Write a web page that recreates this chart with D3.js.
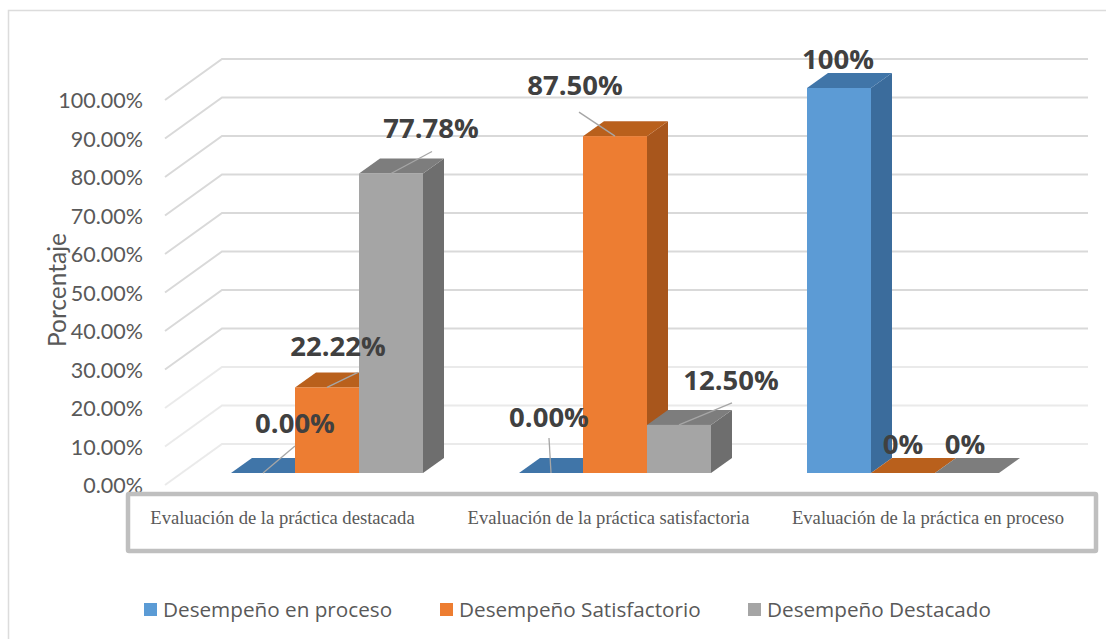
<!DOCTYPE html>
<html>
<head>
<meta charset="utf-8">
<script src="https://cdn.jsdelivr.net/npm/d3@7"></script>
<style>
html,body{margin:0;padding:0;background:#fff;overflow:hidden}
svg{display:block}
</style>
</head>
<body>
<div id="chart"></div>
<script>
const categories = ["Evaluación de la práctica destacada","Evaluación de la práctica satisfactoria","Evaluación de la práctica en proceso"];
const seriesNames = ["Desempeño en proceso","Desempeño Satisfactorio","Desempeño Destacado"];
const enProceso = [0, 0, 1];
const satisfactorio = [0.2222, 0.875, 0];
const destacado = [0.7778, 0.125, 0];
const valueLabels = [["0.00%","0.00%","100%"],["22.22%","87.50%","0%"],["77.78%","12.50%","0%"]];
const tickValues = [0,0.1,0.2,0.3,0.4,0.5,0.6,0.7,0.8,0.9,1];

const seriesValues = [enProceso, satisfactorio, destacado];
const W = 1106, H = 639;
const faces = [
  {front:"#5b9bd5", top:"#3f74a8", side:"#3a6c9c"},
  {front:"#ed7d31", top:"#b9601f", side:"#a8561c"},
  {front:"#a5a5a5", top:"#7d7d7d", side:"#6e6e6e"}
];
const depth = {dx:21, dy:-15};
const wall = {frontX:165, backX:222, rightX:1088, frontDy:12, backDy:-29};

// label centre and optional leader end, relative to the bar's top-front centre
// indexed [series][category]
const labelPlace = [
  [{lx:32,ly:-50,ex:32,ey:-27},{lx:-2,ly:-56,ex:-2,ey:-35},{lx:-1,ly:-29}],
  [{lx:11,ly:-41,ex:31,ey:-15},{lx:-40,ly:-51,ex:-36,ey:-24},{lx:0,ly:-29}],
  [{lx:40,ly:-45,ex:41,ey:-22},{lx:52,ly:-45,ex:53,ey:-22},{lx:-2,ly:-29}]
];

const svg = d3.select("#chart").append("svg").attr("width",W).attr("height",H);
svg.append("rect").attr("width",W).attr("height",H).attr("fill","#fff");
const defs = svg.append("defs");
defs.append("filter").attr("id","soft").append("feGaussianBlur").attr("stdDeviation",0.6);

// outer frame
svg.append("path").attr("d",`M${W},10.5H8.5V${H}`).attr("fill","none").attr("stroke","#dcdcdc").attr("stroke-width",1.5);

const x = d3.scaleBand().domain(categories).range([183,1047]).paddingInner(1/3).paddingOuter(1/6);
const xs = d3.scaleBand().domain(seriesNames).range([0,x.bandwidth()]);
const y = d3.scaleLinear().domain([0,1]).range([473,88]);

// gridlines and side wall
const grid = svg.append("g").attr("fill","none").attr("stroke","#d9d9d9").attr("stroke-width",2).attr("filter","url(#soft)");
grid.selectAll("path").data(tickValues).join("path")
  .attr("stroke-opacity",(d,i)=>i<3?0.55:1)
  .attr("d",d=>`M${wall.frontX},${y(d)+wall.frontDy}L${wall.backX},${y(d)+wall.backDy}H${wall.rightX}`);

// y axis
const axis = svg.append("g").attr("transform",`translate(143,${wall.frontDy+1})`)
  .call(d3.axisLeft(y).tickValues(tickValues).tickSize(0).tickPadding(0).tickFormat(d3.format(".2%")));
axis.select(".domain").remove();
axis.selectAll("text").attr("font-family","Lato,sans-serif").attr("font-size",21.5).attr("fill","#595959");

svg.append("text").attr("transform","translate(66,290) rotate(-90)").attr("text-anchor","middle")
  .attr("font-family","Lato,sans-serif").attr("font-size",24.5).attr("fill","#595959").text("Porcentaje");

// bars
const bars = svg.append("g").attr("filter","url(#soft)");
categories.forEach((c,ci)=>{
  seriesNames.forEach((s,si)=>{
    const v = seriesValues[si][ci];
    const x0 = x(c)+xs(s), x1 = x0+xs.bandwidth(), yt = y(v), yb = y(0);
    const g = bars.append("g");
    g.append("path").attr("fill",faces[si].side)
      .attr("d",`M${x1},${yt}L${x1+depth.dx},${yt+depth.dy}V${yb+depth.dy}L${x1},${yb}Z`);
    g.append("path").attr("fill",faces[si].top)
      .attr("d",`M${x0},${yt}L${x0+depth.dx},${yt+depth.dy}H${x1+depth.dx}L${x1},${yt}Z`);
    g.append("rect").attr("x",x0).attr("y",yt).attr("width",xs.bandwidth()).attr("height",yb-yt).attr("fill",faces[si].front);
  });
});

// leaders and data labels
const labels = svg.append("g");
categories.forEach((c,ci)=>{
  seriesNames.forEach((s,si)=>{
    const v = seriesValues[si][ci];
    const cx = x(c)+xs(s)+xs.bandwidth()/2, cy = y(v);
    const p = labelPlace[si][ci];
    if(p.ex!==undefined){
      labels.append("line").attr("x1",cx).attr("y1",cy).attr("x2",cx+p.ex).attr("y2",cy+p.ey)
        .attr("stroke","#a6a6a6").attr("stroke-width",1.3);
    }
  });
});
categories.forEach((c,ci)=>{
  seriesNames.forEach((s,si)=>{
    const v = seriesValues[si][ci];
    const cx = x(c)+xs(s)+xs.bandwidth()/2, cy = y(v);
    const p = labelPlace[si][ci];
    labels.append("text").attr("x",cx+p.lx).attr("y",cy+p.ly).attr("text-anchor","middle").attr("dy","0.35em")
      .attr("font-family","'Open Sans',sans-serif").attr("font-weight",700).attr("font-size",27.5).attr("fill","#404040")
      .text(valueLabels[si][ci]);
  });
});

// category box
svg.append("rect").attr("x",128).attr("y",494).attr("width",968).attr("height",57)
  .attr("rx",1).attr("fill","#fff").attr("stroke","#bfbfbf").attr("stroke-width",4.5);
const catCenters = [282.5,608.5,928];
svg.append("g").selectAll("text").data(categories).join("text")
  .attr("x",(d,i)=>catCenters[i]).attr("y",524).attr("text-anchor","middle")
  .attr("font-family","'Liberation Serif',serif").attr("font-size",18.6).attr("fill","#595959").text(d=>d);

// legend
const legendX = [144,440,748];
const lg = svg.append("g").selectAll("g").data(seriesNames).join("g")
  .attr("transform",(d,i)=>`translate(${legendX[i]},603)`);
lg.append("rect").attr("width",13).attr("height",13).attr("fill",(d,i)=>faces[i].front);
lg.append("text").attr("x",19).attr("y",14).attr("font-family","'Open Sans',sans-serif").attr("font-size",20.7).attr("fill","#595959").text(d=>d);
</script>
</body>
</html>
